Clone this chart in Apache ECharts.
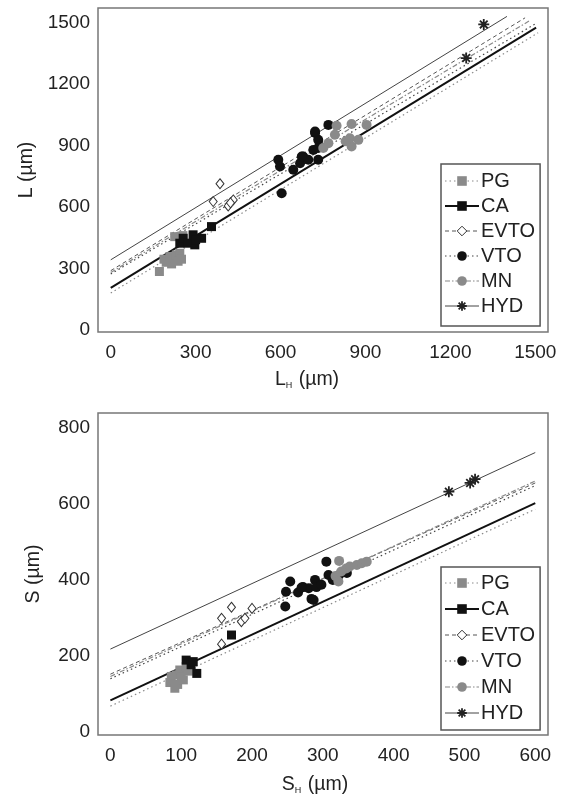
<!DOCTYPE html>
<html>
<head>
<meta charset="utf-8">
<script src="https://cdn.jsdelivr.net/npm/echarts@6/dist/echarts.min.js"></script>
<style>
html, body { margin: 0; padding: 0; background: #fff; }
#main { width: 564px; height: 796px; }
</style>
</head>
<body>
<div id="main"></div>
<script>
// upper panel: L vs LH
var lTicksX = [0, 300, 600, 900, 1200, 1500];
var lTicksY = [0, 300, 600, 900, 1200, 1500];
var lPG = [[172, 285], [188, 345], [196, 330], [209, 358], [215, 322], [226, 350], [232, 366], [244, 374], [238, 335], [250, 345], [226, 455], [255, 460]];
var lCA = [[244, 423], [256, 447], [273, 423], [291, 464], [297, 415], [321, 447], [356, 504], [300, 440]];
var lEVTO = [[386, 713], [362, 626], [415, 605], [433, 634], [423, 620]];
var lVTO = [[604, 667], [592, 830], [598, 797], [645, 781], [669, 813], [680, 846], [698, 830], [716, 878], [722, 960], [733, 927], [733, 830], [769, 1000], [739, 895], [675, 846], [722, 968], [733, 887]];
var lMN = [[798, 996], [851, 1004], [904, 1000], [769, 911], [792, 952], [845, 935], [851, 895], [875, 927], [751, 887], [830, 920]];
var lHYD = [[1318, 1490], [1256, 1326]];
// fitted lines (start / end)
var lFitPG = [[0, 180], [1510, 1449]];
var lFitCA = [[0, 205], [1503, 1474]];
var lFitEVTO = [[0, 289], [1464, 1522]];
var lFitVTO = [[0, 273], [1507, 1498]];
var lFitMN = [[0, 280], [1480, 1508]];
var lFitHYD = [[0, 342], [1400, 1529]];

// lower panel: S vs SH
var sTicksX = [0, 100, 200, 300, 400, 500, 600];
var sTicksY = [0, 200, 400, 600, 800];
var sPG = [[84, 130], [86, 146], [91, 115], [93, 150], [95, 125], [98, 163], [103, 137], [107, 172], [100, 145], [110, 160]];
var sCA = [[107, 189], [114, 177], [117, 185], [122, 154], [171, 255]];
var sEVTO = [[157, 299], [171, 328], [185, 290], [190, 299], [200, 325], [157, 231]];
var sVTO = [[247, 330], [248, 369], [254, 396], [265, 367], [272, 381], [280, 378], [284, 350], [289, 400], [291, 381], [298, 387], [305, 448], [308, 413], [314, 400], [323, 413], [334, 418], [287, 347], [270, 380]];
var sMN = [[318, 410], [322, 396], [323, 450], [326, 422], [333, 430], [338, 435], [348, 439], [355, 444], [362, 448]];
var sHYD = [[478, 632], [508, 655], [515, 665]];
var sFitPG = [[0, 68], [600, 586]];
var sFitCA = [[0, 83], [600, 602]];
var sFitEVTO = [[0, 152], [600, 655]];
var sFitVTO = [[0, 140], [600, 648]];
var sFitMN = [[0, 146], [600, 660]];
var sFitHYD = [[0, 218], [600, 735]];

var font = 'Liberation Sans, Arial, sans-serif';
var star = 'path://M5,0L5,10M0,5L10,5M1.5,1.5L8.5,8.5M1.5,8.5L8.5,1.5';

var groups = [
    {name: 'PG', symbol: 'rect', size: 9, color: '#8a8a8a', border: '#8a8a8a', bw: 0,
        line: {color: '#8a8a8a', width: 1.2, type: [1.5, 3]}},
    {name: 'CA', symbol: 'rect', size: 9, color: '#111', border: '#111', bw: 0,
        line: {color: '#111', width: 2, type: 'solid'}},
    {name: 'EVTO', symbol: 'diamond', size: [8, 10], color: '#fff', border: '#333', bw: 1,
        line: {color: '#555', width: 1, type: [4, 3]}},
    {name: 'VTO', symbol: 'circle', size: 10, color: '#111', border: '#111', bw: 0,
        line: {color: '#444', width: 1.2, type: [1.5, 3]}},
    {name: 'MN', symbol: 'circle', size: 10, color: '#8a8a8a', border: '#8a8a8a', bw: 0,
        line: {color: '#888', width: 1.2, type: [5, 2, 1.5, 2]}},
    {name: 'HYD', symbol: star, size: 11, color: '#222', border: '#222', bw: 1.8,
        line: {color: '#444', width: 1, type: 'solid'}}
];

var panels = [
    {fits: [lFitPG, lFitCA, lFitEVTO, lFitVTO, lFitMN, lFitHYD], pts: [lPG, lCA, lEVTO, lVTO, lMN, lHYD]},
    {fits: [sFitPG, sFitCA, sFitEVTO, sFitVTO, sFitMN, sFitHYD], pts: [sPG, sCA, sEVTO, sVTO, sMN, sHYD]}
];

var series = [];
panels.forEach(function (p, gi) {
    groups.forEach(function (g, k) {
        series.push({
            name: g.name, type: 'line', xAxisIndex: gi, yAxisIndex: gi,
            data: p.fits[k], symbol: g.symbol, symbolSize: g.size, showSymbol: false,
            itemStyle: {color: g.color, borderColor: g.border, borderWidth: g.bw},
            lineStyle: g.line, silent: true, z: 2
        });
    });
    groups.forEach(function (g, k) {
        series.push({
            name: g.name, type: 'scatter', xAxisIndex: gi, yAxisIndex: gi,
            data: p.pts[k], symbol: g.symbol, symbolSize: g.size,
            itemStyle: {color: g.color, borderColor: g.border, borderWidth: g.bw, opacity: 1},
            z: 3
        });
    });
});

var legendData = groups.map(function (g) {
    return {
        name: g.name,
        itemStyle: {color: g.color, borderColor: g.border, borderWidth: g.bw},
        lineStyle: {color: g.line.color, width: g.line.width, type: g.line.type}
    };
});

function legend(top, gap, pad) {
    return {
        orient: 'vertical', left: 441, top: top, data: legendData,
        itemWidth: 34, itemHeight: 12, itemGap: gap, padding: pad,
        borderColor: '#555', borderWidth: 1.5, selectedMode: false,
        textStyle: {fontFamily: font, fontSize: 20, color: '#222', lineHeight: 20, padding: [0, 0, 0, -3]}
    };
}

var labelStyle = {color: '#222', fontSize: 19, fontFamily: font, formatter: function (v) { return String(v); }};
var nameRich = {
    m: {fontSize: 19.5, fontFamily: font, color: '#222'},
    s: {fontSize: 9, fontFamily: font, color: '#222', verticalAlign: 'bottom', padding: [10, 1, 0, 0]}
};

function xAxis(gi, min, max, ticks, name, shift, gap) {
    return {
        gridIndex: gi, type: 'value', min: min, max: max,
        axisLine: {show: false}, axisTick: {show: false}, splitLine: {show: false},
        axisLabel: Object.assign({customValues: ticks, margin: 11}, labelStyle),
        name: name, nameLocation: 'middle', nameGap: gap,
        nameTextStyle: {rich: nameRich, padding: [0, shift, 0, 0]}
    };
}
function yAxis(gi, min, max, ticks, name) {
    return {
        gridIndex: gi, type: 'value', min: min, max: max,
        axisLine: {show: false}, axisTick: {show: false}, splitLine: {show: false},
        axisLabel: Object.assign({customValues: ticks, margin: 8}, labelStyle),
        name: name, nameLocation: 'middle', nameGap: 54,
        nameTextStyle: {fontSize: 19.5, fontFamily: font, color: '#222'}
    };
}

var chart = echarts.init(document.getElementById('main'));
chart.setOption({
    backgroundColor: '#fff',
    animation: false,
    grid: [
        {left: 98, top: 8, width: 450, height: 324, show: true, borderColor: '#777', borderWidth: 1.5},
        {left: 98, top: 413, width: 450, height: 322, show: true, borderColor: '#777', borderWidth: 1.5}
    ],
    xAxis: [
        xAxis(0, -45, 1545, lTicksX, '{m|L}{s|H}{m| (µm)}', 32, 38),
        xAxis(1, -17.5, 618, sTicksX, '{m|S}{s|H}{m| (µm)}', 16, 40)
    ],
    yAxis: [
        yAxis(0, -10, 1570, lTicksY, 'L (µm)'),
        yAxis(1, -8, 839, sTicksY, 'S (µm)')
    ],
    legend: [legend(164, 5, [7, 5, 10, 3]), legend(567, 6, [6, 5, 7, 3])],
    series: series
});
</script>
</body>
</html>
